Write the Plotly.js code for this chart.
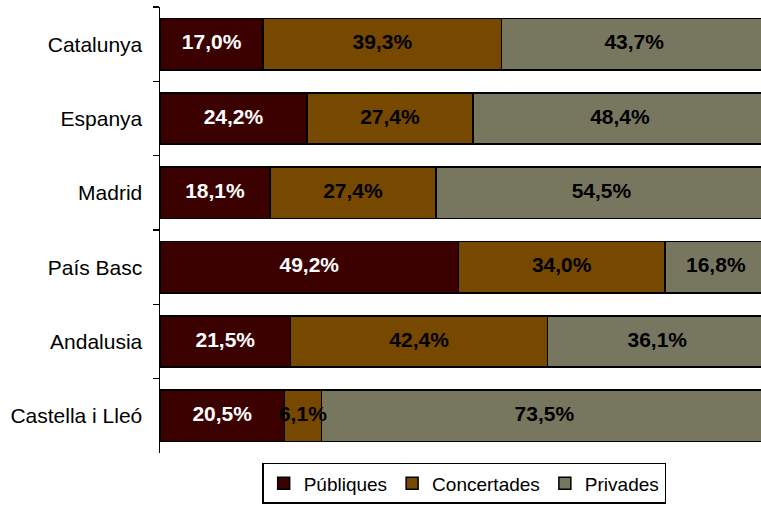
<!DOCTYPE html>
<html>
<head>
<meta charset="utf-8">
<script src="https://cdn.plot.ly/plotly-3.0.1.min.js"></script>
<style>html,body{margin:0;padding:0;background:#fff;}#chart{width:761px;height:505px;}</style>
</head>
<body>
<div id="chart"></div>
<script>
var categories = ["Catalunya", "Espanya", "Madrid", "País Basc", "Andalusia", "Castella i Lleó"];
var publiques = [17.0, 24.2, 18.1, 49.2, 21.5, 20.5];
var concertades = [39.3, 27.4, 27.4, 34.0, 42.4, 6.1];
var privades = [43.7, 48.4, 54.5, 16.8, 36.1, 73.5];
var seriesNames = ["Públiques", "Concertades", "Privades"];
var seriesColors = ["#3b0000", "#774800", "#77775f"];
var labelColors = ["#ffffff", "#000000", "#000000"];

var series = [publiques, concertades, privades];
var fmt = function(v){ return v.toFixed(1).replace('.', ',') + '%'; };
var font = "Arial, 'Liberation Sans', sans-serif";

var traces = [];
series.forEach(function(vals, i){
  traces.push({
    type: 'bar', orientation: 'h', name: seriesNames[i],
    y: categories, x: vals,
    marker: {color: seriesColors[i], line: {color: '#000', width: 1.5}},
    hoverinfo: 'skip'
  });
});
series.forEach(function(vals, i){
  var mids = vals.map(function(v, k){
    var base = 0;
    for (var j = 0; j < i; j++) base += series[j][k];
    return base + v / 2;
  });
  traces.push({
    type: 'scatter', mode: 'text', showlegend: false,
    y: categories, x: mids, text: vals.map(fmt),
    textposition: 'middle center',
    textfont: {family: font, size: 21, color: labelColors[i], weight: 'bold'},
    hoverinfo: 'skip', cliponaxis: false
  });
});

var layout = {
  width: 761, height: 505,
  margin: {l: 160, r: 0, t: 7, b: 52},
  paper_bgcolor: '#fff', plot_bgcolor: '#fff',
  barmode: 'stack', bargap: 0.31,
  font: {family: font, size: 20, color: '#000'},
  xaxis: {range: [0, 99.05], visible: false, fixedrange: true},
  yaxis: {
    type: 'category', autorange: 'reversed',
    showline: true, linecolor: '#000', linewidth: 1.5,
    ticks: 'outside', tickson: 'boundaries', ticklen: 6, tickcolor: '#000', tickwidth: 1.5,
    showgrid: false, zeroline: false,
    ticklabelstandoff: 12,
    tickfont: {family: font, size: 21, color: '#000'}
  },
  showlegend: true,
  legend: {
    orientation: 'h', x: 0.17, xanchor: 'left', y: -0.022, yanchor: 'top',
    bordercolor: '#000', borderwidth: 1.5, bgcolor: '#fff',
    font: {family: font, size: 19, color: '#000'},
    itemwidth: 30, traceorder: 'normal'
  }
};

Plotly.newPlot('chart', traces, layout, {staticPlot: true, displayModeBar: false});
</script>
</body>
</html>
